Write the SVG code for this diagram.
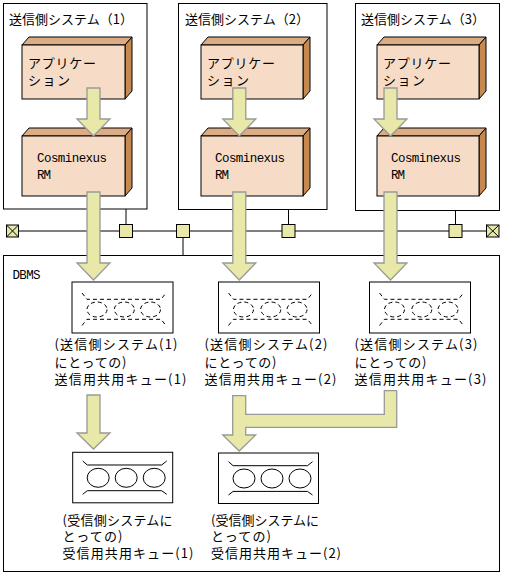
<svg xmlns="http://www.w3.org/2000/svg" width="507" height="576" viewBox="0 0 507 576">
<style>
.frame{fill:#fff;stroke:#000;stroke-width:1}
.front{fill:#f6dcc6;stroke:#000;stroke-width:1}
.top{fill:#dcac84;stroke:#000;stroke-width:1;stroke-linejoin:round}
.side{fill:#c6894f;stroke:#000;stroke-width:1;stroke-linejoin:round}
.arrow{fill:#e8e8a8;stroke:#999;stroke-width:1.3}
.line{fill:none;stroke:#000;stroke-width:1}
.sq{fill:#e8e8a8;stroke:#000;stroke-width:1}
.dq{fill:none;stroke:#000;stroke-width:1;stroke-dasharray:4 3}
.sq2{fill:none;stroke:#000;stroke-width:1}
.t{font-family:"Noto Sans CJK JP","Liberation Sans",sans-serif;font-size:13px;fill:#000}
.m{font-family:"Liberation Mono",monospace;font-size:12.5px;fill:#000}
</style>
<defs>
<g id="sendq">
<rect class="frame" x="0" y="0" width="101" height="51"/>
<polyline class="dq" points="10,11 15,17.3 89,17.3 94,11"/>
<polyline class="dq" points="10,43.5 15,37.3 89,37.3 94,43.5"/>
<ellipse class="dq" cx="25" cy="27.5" rx="10" ry="7.5"/>
<ellipse class="dq" cx="52.3" cy="27.5" rx="10" ry="7.5"/>
<ellipse class="dq" cx="78.5" cy="27.5" rx="10" ry="7.5"/>
</g>
<g id="recvq">
<rect class="frame" x="0" y="0" width="100" height="50.5"/>
<polyline class="sq2" points="10,8.7 14.6,12.7 89,12.7 94,8.7"/>
<polyline class="sq2" points="10,42 14.6,38.4 89,38.4 94,42"/>
<ellipse class="sq2" cx="25.5" cy="25.5" rx="11" ry="9.5"/>
<ellipse class="sq2" cx="53.5" cy="25.5" rx="11" ry="9.5"/>
<ellipse class="sq2" cx="81.5" cy="25.5" rx="11" ry="9.5"/>
</g>
</defs>

<g id="system1">
<rect class="frame" x="3.5" y="3.5" width="143.5" height="205.5"/>
<text class="t" x="9" y="24" textLength="124">送信側システム（1）</text>
</g>
<g id="system2">
<rect class="frame" x="178.5" y="3.5" width="148.5" height="206"/>
<text class="t" x="185" y="24" textLength="124">送信側システム（2）</text>
</g>
<g id="system3">
<rect class="frame" x="355.5" y="3.5" width="144" height="207"/>
<text class="t" x="361" y="24" textLength="124">送信側システム（3）</text>
</g>

<g id="app1">
<polygon class="top" points="22,45 29,37 132,37 125,45"/>
<polygon class="side" points="125,45 132,37 132,91 125,99"/>
<rect class="front" x="22" y="45" width="103" height="54"/>
<text class="t" x="28" y="68" textLength="68">アプリケー</text>
<text class="t" x="28" y="85" textLength="42">ション</text>
</g>
<g id="rm1">
<polygon class="top" points="22,136 29,128 132,128 125,136"/>
<polygon class="side" points="125,136 132,128 132,188 125,196"/>
<rect class="front" x="22" y="136" width="103" height="60"/>
<text class="m" x="37" y="162" textLength="70">Cosminexus</text>
<text class="m" x="37" y="179" textLength="14">RM</text>
</g>
<g id="app2">
<polygon class="top" points="201,45 208,37 310,37 303,45"/>
<polygon class="side" points="303,45 310,37 310,91 303,99"/>
<rect class="front" x="201" y="45" width="102" height="54"/>
<text class="t" x="207" y="68" textLength="68">アプリケー</text>
<text class="t" x="207" y="85" textLength="42">ション</text>
</g>
<g id="rm2">
<polygon class="top" points="201,136 208,128 310,128 303,136"/>
<polygon class="side" points="303,136 310,128 310,188 303,196"/>
<rect class="front" x="201" y="136" width="102" height="60"/>
<text class="m" x="215" y="162" textLength="70">Cosminexus</text>
<text class="m" x="215" y="179" textLength="14">RM</text>
</g>
<g id="app3">
<polygon class="top" points="377,45 384,37 486,37 479,45"/>
<polygon class="side" points="479,45 486,37 486,91 479,99"/>
<rect class="front" x="377" y="45" width="102" height="54"/>
<text class="t" x="383" y="68" textLength="68">アプリケー</text>
<text class="t" x="383" y="85" textLength="42">ション</text>
</g>
<g id="rm3">
<polygon class="top" points="377,136 384,128 486,128 479,136"/>
<polygon class="side" points="479,136 486,128 486,188 479,196"/>
<rect class="front" x="377" y="136" width="102" height="60"/>
<text class="m" x="391" y="162" textLength="70">Cosminexus</text>
<text class="m" x="391" y="179" textLength="14">RM</text>
</g>

<g id="dbms">
<rect class="frame" x="3.5" y="255.5" width="496" height="316"/>
<text class="m" x="12.5" y="279" textLength="28">DBMS</text>
</g>

<g id="sendq1">
<use href="#sendq" x="72" y="282"/>
<text class="t" x="54.5" y="349" textLength="123">(送信側システム(1)</text>
<text class="t" x="54.5" y="367" textLength="72">にとっての)</text>
<text class="t" x="54.5" y="384" textLength="132">送信用共用キュー(1)</text>
</g>
<g id="sendq2">
<use href="#sendq" x="218.5" y="282"/>
<text class="t" x="204.5" y="349" textLength="123">(送信側システム(2)</text>
<text class="t" x="204.5" y="367" textLength="72">にとっての)</text>
<text class="t" x="204.5" y="384" textLength="132">送信用共用キュー(2)</text>
</g>
<g id="sendq3">
<use href="#sendq" x="369.5" y="282"/>
<text class="t" x="354.5" y="349" textLength="123">(送信側システム(3)</text>
<text class="t" x="354.5" y="367" textLength="72">にとっての)</text>
<text class="t" x="354.5" y="384" textLength="132">送信用共用キュー(3)</text>
</g>
<g id="recvq1">
<use href="#recvq" x="72.7" y="452.3"/>
<text class="t" x="62.5" y="524.5" textLength="110">(受信側システムに</text>
<text class="t" x="62.5" y="540.5" textLength="60">とっての)</text>
<text class="t" x="62.5" y="557.5" textLength="131">受信用共用キュー(1)</text>
</g>
<g id="recvq2">
<use href="#recvq" x="218.5" y="453"/>
<text class="t" x="211" y="524.5" textLength="108">(受信側システムに</text>
<text class="t" x="211" y="540.5" textLength="60">とっての)</text>
<text class="t" x="211" y="557.5" textLength="130">受信用共用キュー(2)</text>
</g>

<g id="connectors">
<line class="line" x1="18" y1="231" x2="487" y2="231"/>
<line class="line" x1="126" y1="209" x2="126" y2="224.5"/>
<line class="line" x1="183" y1="237.5" x2="183" y2="255.5"/>
<line class="line" x1="288.5" y1="209.5" x2="288.5" y2="224.5"/>
<line class="line" x1="455.5" y1="210.5" x2="455.5" y2="224.5"/>
<rect class="sq" x="6.5" y="225" width="12" height="12"/>
<path class="line" d="M6.5,225 L18.5,237 M18.5,225 L6.5,237"/>
<rect class="sq" x="486.5" y="225" width="12.5" height="12"/>
<path class="line" d="M486.5,225 L499,237 M499,225 L486.5,237"/>
<rect class="sq" x="119.5" y="224.5" width="13" height="13"/>
<rect class="sq" x="176.5" y="224.5" width="13" height="13"/>
<rect class="sq" x="282" y="224.5" width="13" height="13"/>
<rect class="sq" x="449" y="224.5" width="13" height="13"/>

<polygon class="arrow" points="87,88 100,88 100,119 110,119 93.5,136 77,119 87,119"/>
<polygon class="arrow" points="232.8,88 245.8,88 245.8,119 255.8,119 239.3,136 222.8,119 232.8,119"/>
<polygon class="arrow" points="384,88 397,88 397,119 407,119 390.5,136 374,119 384,119"/>
<polygon class="arrow" points="87,192 100,192 100,263 110,263 93.5,280 77,263 87,263"/>
<polygon class="arrow" points="232.8,192 245.8,192 245.8,263 255.8,263 239.3,280 222.8,263 232.8,263"/>
<polygon class="arrow" points="384,192 397,192 397,263 407,263 390.5,280 374,263 384,263"/>
<polygon class="arrow" points="87,395 100,395 100,433 110,433 93.5,449 77,433 87,433"/>
<polygon class="arrow" points="232.7,395.7 245.7,395.7 245.7,414.3 384.3,414.3 384.3,390.7 396.7,390.7 396.7,427.3 245.7,427.3 245.7,435 255.7,435 239.2,451 222.7,435 232.7,435"/>
</g>
</svg>
